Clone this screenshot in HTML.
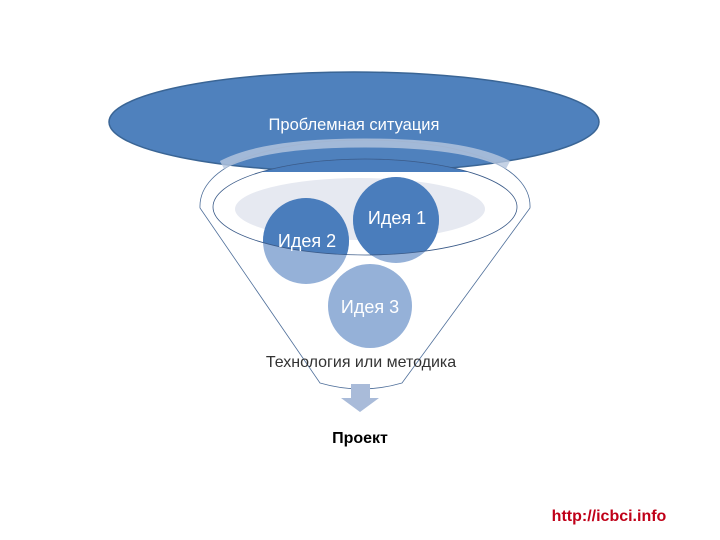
<!DOCTYPE html>
<html><head><meta charset="utf-8"><style>
html,body{margin:0;padding:0;background:#fff;width:720px;height:540px;overflow:hidden}
svg{display:block}
text{font-family:"Liberation Sans","DejaVu Sans",sans-serif}
</style></head><body>
<svg width="720" height="540" viewBox="0 0 720 540">
<defs>
<clipPath id="inner"><ellipse cx="365" cy="207" rx="152" ry="48"/></clipPath>
</defs>
<ellipse cx="354" cy="122" rx="245" ry="50" fill="#4f81bd" stroke="#3a6595" stroke-width="1.5"/>
<path d="M200,208 C198,165 270,140 365,140 C460,140 532,165 530,208 L402,383 Q361,395 320,383 Z" fill="none" stroke="#4f6f9a" stroke-width="0.8"/>
<path d="M222,165 C250,150 300,143 365,143 C430,143 480,150 508,165" fill="none" stroke="#b7c7de" stroke-width="9" opacity="0.8"/>
<ellipse cx="365" cy="207" rx="152" ry="48" fill="#fff" stroke="none"/>
<g clip-path="url(#inner)">
<rect x="200" y="150" width="330" height="22" fill="#4a7dbc"/>
<ellipse cx="360" cy="209" rx="125" ry="31" fill="#e6e9f1"/>
</g>
<circle cx="306" cy="241" r="43" fill="#95b1d8"/>
<circle cx="396" cy="220" r="43" fill="#95b1d8"/>
<circle cx="370" cy="306" r="42" fill="#95b1d8"/>
<g clip-path="url(#inner)">
<circle cx="306" cy="241" r="43" fill="#4a7dbc"/>
<circle cx="396" cy="220" r="43" fill="#4a7dbc"/>
</g>
<ellipse cx="365" cy="207" rx="152" ry="48" fill="none" stroke="#3a5a88" stroke-width="0.8"/>
<text x="354" y="130" font-size="16.5" fill="#fff" text-anchor="middle">Проблемная ситуация</text>
<text x="397" y="224" font-size="18" fill="#fff" text-anchor="middle">Идея 1</text>
<text x="307" y="247" font-size="18" fill="#fff" text-anchor="middle">Идея 2</text>
<text x="370" y="313" font-size="18" fill="#fff" text-anchor="middle">Идея 3</text>
<text x="361" y="367" font-size="16" fill="#333" text-anchor="middle">Технология или методика</text>
<path d="M351,384 H370 V398 H379 L360,412 L341,398 H351 Z" fill="#a9bbd9"/>
<text x="360" y="443" font-size="16" font-weight="bold" fill="#000" text-anchor="middle">Проект</text>
<text x="609" y="521" font-size="16" font-weight="bold" fill="#c00018" text-anchor="middle">http://icbci.info</text>
</svg>
</body></html>
